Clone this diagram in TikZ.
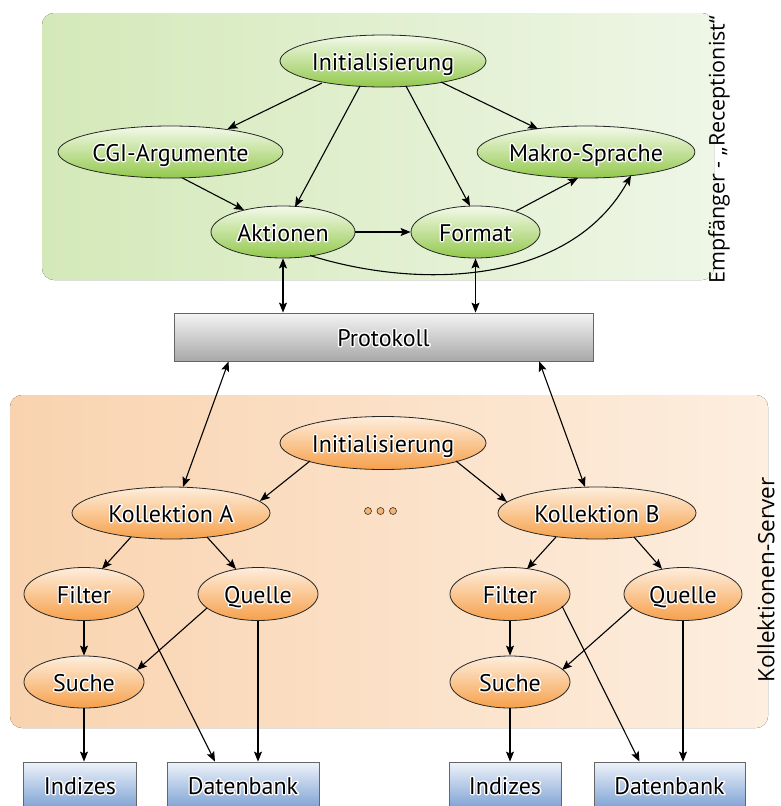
\documentclass[tikz,border=0pt]{standalone}
\usepackage{fontspec}
\setmainfont{PT Sans}
\newfontfamily\sidefont{Open Sans}
\usetikzlibrary{shapes.geometric,arrows.meta,calc}

% white outline behind node text: a stroked copy, then the normal text on top
\newcommand\halotext[1]{\leavevmode\rlap{\special{pdf:literal direct 1 Tr 1 1 1 RG 2.8 w 1 j 1 J}#1\special{pdf:literal direct 0 Tr 0 0 0 RG 1 w}}#1}

\definecolor{gTop}{HTML}{F4FAEA}
\definecolor{gBot}{HTML}{92C84C}
\definecolor{oTop}{HTML}{FEEEDD}
\definecolor{oBot}{HTML}{F6A04A}
\definecolor{bTop}{HTML}{EEF3FA}
\definecolor{bBot}{HTML}{7FA2D4}
\definecolor{sTop}{HTML}{F4F4F4}
\definecolor{sBot}{HTML}{A8A8A8}
\definecolor{panelGL}{HTML}{D4E9B9}
\definecolor{panelGR}{HTML}{EEF6E6}
\definecolor{panelOL}{HTML}{F9D3AF}
\definecolor{panelOR}{HTML}{FDEEDF}

\tikzset{
  lbl/.style={font=\fontsize{24}{28}\selectfont, inner sep=0pt, text height=18pt, text depth=0pt},
  gell/.style={lbl, ellipse, draw=black!85, line width=0.8pt, top color=gTop, bottom color=gBot},
  oell/.style={lbl, ellipse, draw=black!85, line width=0.8pt, top color=oTop, bottom color=oBot},
  bbox/.style={lbl, rectangle, draw=black!60, line width=0.8pt, top color=bTop, bottom color=bBot},
  sbox/.style={lbl, rectangle, draw=black!60, line width=0.8pt, top color=sTop, bottom color=sBot},
  dotnode/.style={circle, draw=black!80, line width=0.6pt, fill=oBot!80, minimum size=7pt, inner sep=0pt},
  side/.style={font=\sidefont\fontsize{21.5}{25}\selectfont, rotate=90, inner sep=0pt},
  arr/.style={line width=1.1pt, -{Stealth[length=10pt,width=8pt,inset=2pt]}},
  darr/.style={line width=1.1pt, {Stealth[length=10pt,width=8pt,inset=2pt]}-{Stealth[length=10pt,width=8pt,inset=2pt]}},
}

\begin{document}
\begin{tikzpicture}[x=1pt, y=-1pt]
\useasboundingbox (0,0) rectangle (781,806);

% background panels
\fill[left color=panelGL, right color=panelGR, rounded corners=12pt] (42,13) rectangle (714,280);
\fill[left color=panelOL, right color=panelOR, rounded corners=12pt] (10,395) rectangle (768,728);

% side labels
\node[side] (labR) at (719,150) {Empfänger - „Receptionist“};
\node[side, font=\sidefont\fontsize{22.5}{26}\selectfont] (labK) at (766,580) {Kollektionen-Server};

% receptionist part
\node[gell, minimum width=206, minimum height=52] (init) at (383,61) {\halotext{Initialisierung}};
\node[gell, minimum width=225, minimum height=52] (cgi) at (170.5,152) {\halotext{CGI-Argumente}};
\node[gell, minimum width=212, minimum height=52] (mak) at (586,152) {\halotext{Makro-Sprache}};
\node[gell, minimum width=144, minimum height=52] (akt) at (283,232) {\halotext{Aktionen}};
\node[gell, minimum width=129, minimum height=52] (fmt) at (475.5,232) {\halotext{Format}};

% protocol layer
\node[sbox, minimum width=419, minimum height=48] (prot) at (383.5,337) {\halotext{Protokoll}};

% collection server
\node[oell, minimum width=206, minimum height=53] (oinit) at (383,443) {\halotext{Initialisierung}};
\node[oell, minimum width=198, minimum height=52] (kolA) at (171,513) {\halotext{Kollektion A}};
\node[oell, minimum width=198, minimum height=52] (kolB) at (597,513) {\halotext{Kollektion B}};
\node[dotnode] (d1) at (368,511) {};
\node[dotnode] (d2) at (380.5,511) {};
\node[dotnode] (d3) at (393,511) {};

\node[oell, minimum width=120, minimum height=53] (filA) at (84,594) {\halotext{Filter}};
\node[oell, minimum width=120, minimum height=53] (queA) at (258,594) {\halotext{Quelle}};
\node[oell, minimum width=120, minimum height=52] (suA) at (84,682) {\halotext{Suche}};
\node[oell, minimum width=120, minimum height=53] (filB) at (510,594) {\halotext{Filter}};
\node[oell, minimum width=118, minimum height=53] (queB) at (683,594) {\halotext{Quelle}};
\node[oell, minimum width=120, minimum height=52] (suB) at (510,682) {\halotext{Suche}};

% storage
\node[bbox, minimum width=113, minimum height=46] (idxA) at (80,785) {\halotext{Indizes}};
\node[bbox, minimum width=152, minimum height=46] (dbA) at (243,785) {\halotext{Datenbank}};
\node[bbox, minimum width=112, minimum height=46] (idxB) at (505,785) {\halotext{Indizes}};
\node[bbox, minimum width=151, minimum height=46] (dbB) at (669.5,785) {\halotext{Datenbank}};

% receptionist connectors
\draw[arr] ($(init)+(-61,22)$) -- ($(cgi)+(57,-23)$);
\draw[arr] ($(init)+(-23,25)$) -- ($(akt)+(12,-25)$);
\draw[arr] ($(init)+(23,25)$) -- ($(fmt)+(-5.5,-26)$);
\draw[arr] ($(init)+(58,21)$) -- ($(mak)+(-48,-23)$);
\draw[arr] ($(cgi)+(12,26)$) -- ($(akt)+(-39,-22)$);
\draw[arr] (akt.east) -- (fmt.west);
\draw[arr] ($(fmt)+(40.5,-21)$) -- ($(mak)+(-8,26)$);
\draw[arr] ($(akt)+(27,23.5)$) .. controls (420,290) and (570,285) .. ($(mak)+(45,23.5)$);

% protocol links
\draw[darr] (akt.south) -- (akt.south |- prot.north);
\draw[darr] (fmt.south) -- (fmt.south |- prot.north);
\draw[darr] ($(prot.south west)!0.131!(prot.south east)$) -- ($(kolA)+(12,-26)$);
\draw[darr] ($(prot.south west)!0.871!(prot.south east)$) -- ($(kolB)+(-12,-26)$);

% collection connectors
\draw[arr] ($(oinit)+(-73,18)$) -- ($(kolA)+(89,-12)$);
\draw[arr] ($(oinit)+(73,18)$) -- ($(kolB)+(-90,-11)$);

\draw[arr] ($(kolA)+(-40,24)$) -- ($(filA)+(18,-25)$);
\draw[arr] ($(kolA)+(36,24)$) -- ($(queA)+(-22,-25)$);
\draw[arr] (filA.south) -- (suA.north);
\draw[arr] ($(queA)+(-51,14)$) -- ($(suA)+(53,-12)$);
\draw[arr] ($(filA)+(53,12)$) -- ($(dbA.north)+(-28,0)$);
\draw[arr] (queA.south) -- (queA.south |- dbA.north);
\draw[arr] (suA.south) -- (suA.south |- idxA.north);

\draw[arr] ($(kolB)+(-41,24)$) -- ($(filB)+(17,-25)$);
\draw[arr] ($(kolB)+(37,24)$) -- ($(queB)+(-21,-25)$);
\draw[arr] (filB.south) -- (suB.north);
\draw[arr] ($(queB)+(-51,14)$) -- ($(suB)+(52,-12)$);
\draw[arr] ($(filB)+(52,12)$) -- ($(dbB.north)+(-30,0)$);
\draw[arr] (queB.south) -- (queB.south |- dbB.north);
\draw[arr] (suB.south) -- (suB.south |- idxB.north);
\end{tikzpicture}
\end{document}
